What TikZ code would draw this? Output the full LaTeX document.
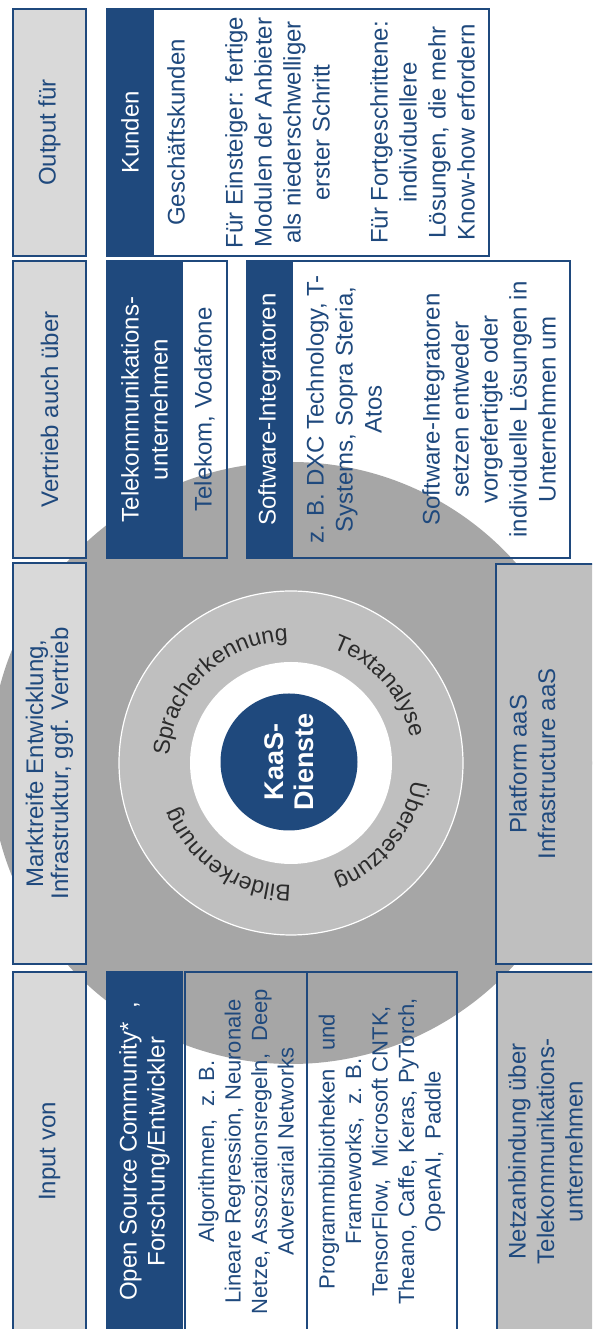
\documentclass[tikz,border=0pt]{standalone}
\usepackage{fontspec}
\setmainfont{Liberation Sans}
\usetikzlibrary{decorations.text}

\definecolor{navy}{HTML}{1F497D}
\definecolor{palegray}{HTML}{D9D9D9}
\definecolor{midgray}{HTML}{BFBFBF}
\definecolor{ringgray}{HTML}{BFBFBF}
\definecolor{discgray}{HTML}{A6A6A6}
\definecolor{ringink}{HTML}{2B2B2B}

\newcommand\ringfont{\fontsize{23}{23}\selectfont\color{ringink}}

\begin{document}
\begin{tikzpicture}[x=1pt, y=1pt,
    graybox/.style={draw=navy, line width=1.4pt, fill=palegray, text=navy, rotate=90,
      inner sep=0pt, align=center, minimum height=73pt, font=\fontsize{24}{28.5}\selectfont},
    band/.style={draw=navy, line width=1.4pt, fill=navy, text=white, rotate=90,
      inner sep=0pt, align=center, font=\fontsize{24}{29}\selectfont},
    panel/.style={draw=navy, line width=1.4pt, text=navy, rotate=90,
      inner sep=0pt, align=center, font=\fontsize{24}{29}\selectfont},
    disc/.style={circle, inner sep=0pt},
    ringlabel/.style={decorate, decoration={text along path, text align=center, text={|\ringfont|#1}}}]

    \useasboundingbox (0,0) rectangle (592,1329);
    \clip (0,0) rectangle (592,1329);

    % circle in the middle
    \node[disc, fill=discgray, minimum size=602pt] (disc) at (291,566) {};
    \node[disc, fill=ringgray, draw=white, line width=1.2pt, minimum size=344pt] (ring) at (291,566) {};
    \node[disc, fill=white, minimum size=202pt] (hole) at (291,566) {};
    \node[disc, fill=navy, minimum size=137pt, text=white, rotate=90, align=center,
      font=\fontsize{27}{30}\selectfont\bfseries] (core) at (289,567) {KaaS-\\Dienste};

    \path[ringlabel={Spracherkennung}] ([shift={(194:122)}]ring.center) arc[start angle=194, end angle=74, radius=122];
    \path[ringlabel={Textanalyse}] ([shift={(101:122)}]ring.center) arc[start angle=101, end angle=-19, radius=122];
    \path[ringlabel={Übersetzung}] ([shift={(21:122)}]ring.center) arc[start angle=21, end angle=-99, radius=122];
    \path[ringlabel={Bilderkennung}] ([shift={(295.5:122)}]ring.center) arc[start angle=295.5, end angle=175.5, radius=122];

    % left column
    \node[graybox, minimum width=247pt] (output) at (49.5,1196.5) {Output für};
    \node[graybox, minimum width=297pt] (vertrieb) at (49.5,919.5) {Vertrieb auch über};
    \node[graybox, minimum width=401pt, font=\fontsize{24}{25}\selectfont] (marktreife) at (49.5,565.5)
      {Marktreife Entwicklung,\\Infrastruktur, ggf. Vertrieb};
    \node[graybox, minimum width=359pt] (input) at (49.5,177.5) {Input von};

    % output
    \node[band, minimum width=247pt, minimum height=46pt] (kunden) at (130,1196.5) {Kunden};
    \node[panel, minimum width=247pt, minimum height=336pt] (kundenpanel) at (321,1196.5)
      {Geschäftskunden\\[29pt]
       Für Einsteiger: fertige\\Modulen der Anbieter\\als niederschwelliger\\erster Schritt\\[29pt]
       Für Fortgeschrittene:\\individuellere\\Lösungen, die mehr\\Know-how erfordern};

    % vertrieb
    \node[band, minimum width=297pt, minimum height=75pt] (telekom) at (144.5,919.5)
      {Telekommunikations-\\unternehmen};
    \node[panel, minimum width=297pt, minimum height=45pt] (telekompanel) at (204.5,919.5) {Telekom,\ Vodafone};
    \node[band, minimum width=297pt, minimum height=45pt] (software) at (269.5,919.5) {Software-Integratoren};
    \node[panel, minimum width=297pt, minimum height=278pt] (softwarepanel) at (431,919.5)
      {z. B. DXC Technology, T-\\Systems, Sopra Steria,\\Atos\\[29pt]
       Software-Integratoren\\setzen entweder\\vorgefertigte oder\\individuelle Lösungen in\\Unternehmen um};

    % right column
    \node[graybox, fill=midgray, minimum width=400pt, minimum height=104pt] (platform) at (548,565) {};
    \node[anchor=north, rotate=90, text=navy, align=center, inner sep=0pt,
      font=\fontsize{24}{28.5}\selectfont] (platformtext) at (509,565) {Platform aaS\\Infrastructure aaS};
    \node[graybox, fill=midgray, minimum width=359pt, minimum height=103pt] (netz) at (548.5,177.5) {};
    \node[anchor=north, rotate=90, text=navy, align=center, inner sep=0pt,
      font=\fontsize{24}{28.5}\selectfont] (netztext) at (508,177.5)
      {Netzanbindung über\\Telekommunikations-\\unternehmen};

    % input
    \node[band, minimum width=359pt, minimum height=75pt, font=\fontsize{24}{28}\selectfont] (opensource) at (144.5,177.5)
      {Open Source Community*\ \ ,\\Forschung/Entwickler};
    \node[panel, minimum width=359pt, minimum height=122pt, font=\fontsize{22}{26.5}\selectfont] (algorithmen) at (246,177.5)
      {Algorithmen,\ \ z. B.\\Lineare Regression, Neuronale\\Netze, Assoziationsregeln,\ \ Deep\\Adversarial Networks};
    \node[panel, minimum width=359pt, minimum height=150pt, font=\fontsize{22}{26.5}\selectfont] (bibliotheken) at (382,177.5)
      {Programmbibliotheken\ \ \ und\\Frameworks,\ \ z. B.\\TensorFlow,\ \ Microsoft CNTK,\\Theano, Caffe, Keras, PyTorch,\\OpenAI,\ \ Paddle};
  \end{tikzpicture}
\end{document}
